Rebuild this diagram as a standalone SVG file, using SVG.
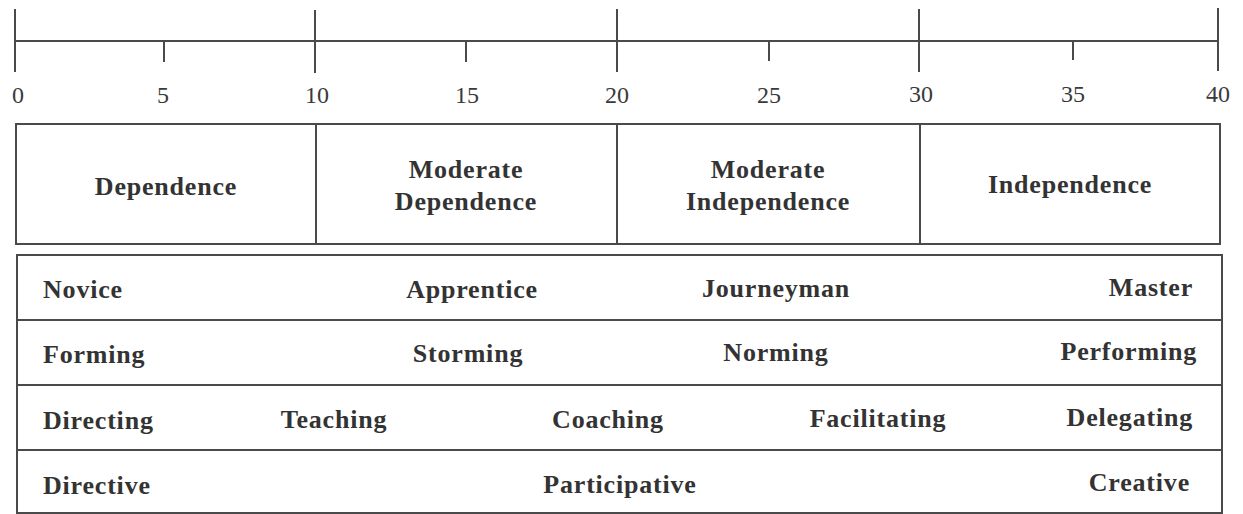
<svg xmlns="http://www.w3.org/2000/svg" width="1243" height="514" viewBox="0 0 1243 514">
<style>
.ln{stroke:#4a4a4a;stroke-width:2;fill:none}
.num{font-family:"Liberation Serif",serif;font-size:24px;fill:#3a3a3a;text-anchor:middle}
.lb{font-family:"Liberation Serif",serif;font-size:26px;font-weight:bold;fill:#333;letter-spacing:0.8px}
.c{text-anchor:middle}
.e{text-anchor:end}
</style>
<rect width="1243" height="514" fill="#fff"/>
<g id="axis">
<line class="ln" x1="15" y1="41" x2="1218" y2="41"/>
<line class="ln" x1="15" y1="9" x2="15" y2="72"/>
<line class="ln" x1="315" y1="10" x2="315" y2="73"/>
<line class="ln" x1="617" y1="9" x2="617" y2="72"/>
<line class="ln" x1="919" y1="9" x2="919" y2="72"/>
<line class="ln" x1="1218" y1="8" x2="1218" y2="71"/>
<line class="ln" x1="164" y1="41" x2="164" y2="62"/>
<line class="ln" x1="466" y1="41" x2="466" y2="62"/>
<line class="ln" x1="769" y1="41" x2="769" y2="61"/>
<line class="ln" x1="1073" y1="40" x2="1073" y2="60"/>
<text class="num" x="18" y="103">0</text>
<text class="num" x="163" y="103">5</text>
<text class="num" x="317" y="103">10</text>
<text class="num" x="467" y="103">15</text>
<text class="num" x="617" y="103">20</text>
<text class="num" x="769" y="103">25</text>
<text class="num" x="921" y="102">30</text>
<text class="num" x="1073" y="102">35</text>
<text class="num" x="1218" y="102">40</text>
</g>
<g id="stages">
<rect class="ln" x="16" y="124" width="1204" height="120"/>
<line class="ln" x1="316" y1="124" x2="316" y2="244"/>
<line class="ln" x1="617" y1="124" x2="617" y2="244"/>
<line class="ln" x1="920" y1="124" x2="920" y2="244"/>
<text class="lb c" x="166" y="195">Dependence</text>
<text class="lb c" x="466" y="178">Moderate</text>
<text class="lb c" x="466" y="210">Dependence</text>
<text class="lb c" x="768" y="178">Moderate</text>
<text class="lb c" x="768" y="210">Independence</text>
<text class="lb c" x="1070" y="193">Independence</text>
</g>
<g id="table">
<rect class="ln" x="17" y="255" width="1205" height="258"/>
<line class="ln" x1="17" y1="320" x2="1222" y2="320"/>
<line class="ln" x1="17" y1="385" x2="1222" y2="385"/>
<line class="ln" x1="17" y1="450" x2="1222" y2="450"/>
</g>
<g id="row1">
<text class="lb" x="43" y="298">Novice</text>
<text class="lb c" x="472" y="298">Apprentice</text>
<text class="lb c" x="776" y="297">Journeyman</text>
<text class="lb e" x="1193" y="296">Master</text>
</g>
<g id="row2">
<text class="lb" x="43" y="363">Forming</text>
<text class="lb c" x="468" y="362">Storming</text>
<text class="lb c" x="776" y="361">Norming</text>
<text class="lb e" x="1197" y="360">Performing</text>
</g>
<g id="row3">
<text class="lb" x="43" y="429">Directing</text>
<text class="lb c" x="334" y="428">Teaching</text>
<text class="lb c" x="608" y="428">Coaching</text>
<text class="lb c" x="878" y="427">Facilitating</text>
<text class="lb e" x="1193" y="426">Delegating</text>
</g>
<g id="row4">
<text class="lb" x="43" y="494">Directive</text>
<text class="lb c" x="620" y="493">Participative</text>
<text class="lb e" x="1190" y="491">Creative</text>
</g>
</svg>
